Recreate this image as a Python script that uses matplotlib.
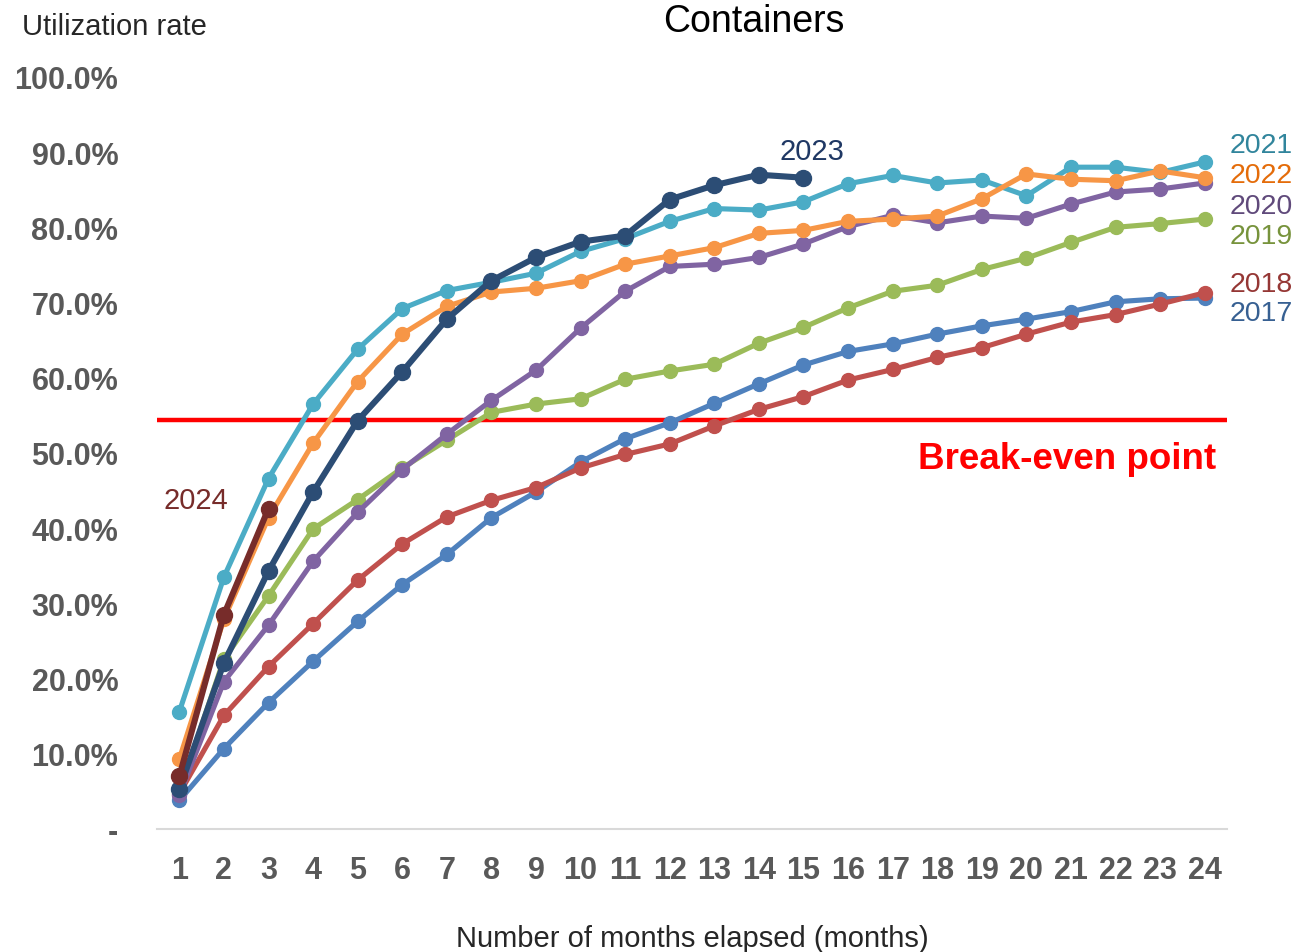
import matplotlib
matplotlib.use("Agg")
import matplotlib.pyplot as plt

plt.rcParams["font.family"] = ["Liberation Sans", "DejaVu Sans"]

# Monate seit Start
months = list(range(1, 25))

# Auslastung in Prozent je Startjahr
rate_2017 = [3.8, 10.7, 16.8, 22.3, 27.6, 32.5, 36.5, 41.4, 44.8, 48.8, 51.9, 54.0,
             56.6, 59.2, 61.7, 63.5, 64.5, 65.8, 66.9, 67.8, 68.8, 70.1, 70.5, 70.6]
rate_2018 = [4.7, 15.1, 21.6, 27.3, 33.1, 37.9, 41.5, 43.7, 45.4, 48.0, 49.8, 51.2,
             53.6, 55.8, 57.5, 59.7, 61.1, 62.7, 64.0, 65.8, 67.4, 68.4, 69.8, 71.3]
rate_2019 = [5.0, 22.6, 31.0, 39.9, 43.8, 48.0, 51.7, 55.4, 56.5, 57.2, 59.8, 60.9,
             61.8, 64.6, 66.7, 69.3, 71.5, 72.3, 74.4, 75.9, 78.0, 80.0, 80.5, 81.1]
rate_2020 = [4.5, 19.6, 27.1, 35.6, 42.1, 47.8, 52.5, 57.0, 61.0, 66.6, 71.5, 74.8,
             75.1, 76.0, 77.8, 80.1, 81.6, 80.6, 81.5, 81.2, 83.1, 84.7, 85.1, 85.9]
rate_2021 = [15.6, 33.5, 46.6, 56.5, 63.8, 69.2, 71.6, 72.7, 73.9, 76.8, 78.5, 80.8,
             82.5, 82.3, 83.4, 85.8, 86.9, 85.9, 86.3, 84.2, 88.0, 88.0, 87.3, 88.7]
rate_2022 = [9.3, 27.9, 41.4, 51.3, 59.5, 65.8, 69.5, 71.4, 71.9, 72.9, 75.1, 76.2,
             77.3, 79.2, 79.6, 80.8, 81.1, 81.5, 83.8, 87.1, 86.4, 86.2, 87.5, 86.6]
rate_2023 = [5.3, 22.1, 34.3, 44.8, 54.3, 60.8, 67.8, 72.9, 76.0, 78.1, 78.9, 83.7,
             85.6, 87.0, 86.6]
rate_2024 = [7.0, 28.5, 42.6]

break_even = 54.4

years = ["2017", "2018", "2019", "2020", "2021", "2022", "2023", "2024"]
series = [rate_2017, rate_2018, rate_2019, rate_2020, rate_2021, rate_2022, rate_2023, rate_2024]
line_colors = ["#4F81BD", "#C0504D", "#9BBB59", "#8064A2", "#4BACC6", "#F79646", "#2C4D75", "#772C2A"]
label_colors = ["#376092", "#953735", "#77933C", "#604A7B", "#31859C", "#E46C0A", "#1F3864", "#772C2A"]

fig = plt.figure(figsize=(12.99, 9.53), dpi=100)
ax = fig.add_axes([0.1209, 0.1291, 0.8237, 0.7891])

for year, values, color in zip(years, series, line_colors):
    thick = year in ("2023", "2024")
    ax.plot(months[:len(values)], values, color=color,
            linewidth=4.4 if thick else 3.7,
            marker="o", markersize=11.5 if thick else 10,
            clip_on=False)

ax.axhline(break_even, color="#FF0000", linewidth=3.2, zorder=1)

ax.set_xlim(0.5, 24.5)
ax.set_ylim(0, 100)
ax.set_xticks(months)
ax.set_xticklabels([str(m) for m in months])
yticks = list(range(0, 101, 10))
ax.set_yticks(yticks)
ax.set_yticklabels(["-"] + [f"{v:.1f}%" for v in yticks[1:]])
ax.tick_params(axis="both", length=0, labelsize=22, labelcolor="#595959")
ax.tick_params(axis="y", pad=28)
ax.tick_params(axis="x", pad=19)
for lab in ax.get_xticklabels() + ax.get_yticklabels():
    lab.set_fontweight("bold")

for side in ["top", "right", "left"]:
    ax.spines[side].set_visible(False)
ax.spines["bottom"].set_color("#D9D9D9")
ax.spines["bottom"].set_linewidth(1.5)

# Jahresbeschriftungen am rechten Rand
right_labels = {"2021": 91.0, "2022": 87.0, "2020": 82.8, "2019": 78.9, "2018": 72.5, "2017": 68.6}
for year, yv in right_labels.items():
    i = years.index(year)
    ax.text(24.55, yv, year, color=label_colors[i], fontsize=20.5, va="center", ha="left", clip_on=False)

ax.text(15.2, 90.2, "2023", color=label_colors[6], fontsize=21, va="center", ha="center")
ax.text(1.38, 43.7, "2024", color=label_colors[7], fontsize=21, va="center", ha="center")
ax.text(24.25, 49.2, "Break-even point", color="#FF0000", fontsize=26.5, fontweight="bold",
        va="center", ha="right")

fig.text(22 / 1299, 1 - 27 / 953, "Utilization rate", fontsize=21, color="#262626", va="center", ha="left")
fig.text(754 / 1299, 1 - 22 / 953, "Containers", fontsize=27, color="black", va="center", ha="center")
fig.text(692 / 1299, 1 - 939 / 953, "Number of months elapsed (months)", fontsize=21,
         color="#262626", va="center", ha="center")

fig.savefig("out.png", dpi=100)
